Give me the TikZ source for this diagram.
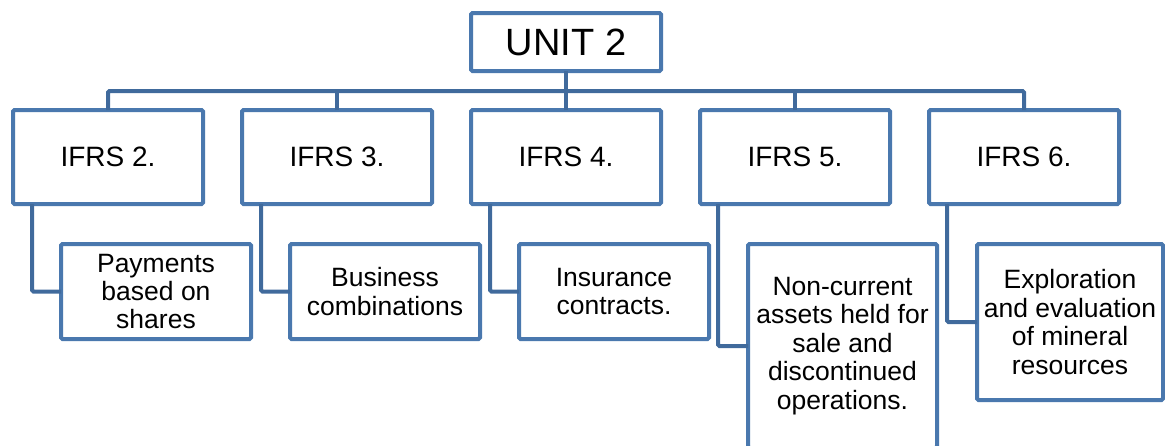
\documentclass[tikz,border=0pt]{standalone}
\usepackage{fontspec}
\setmainfont{Liberation Sans}
\definecolor{boxblue}{RGB}{74,120,174}
\definecolor{lineblue}{RGB}{64,106,156}
\begin{document}
\begin{tikzpicture}[x=1pt,y=-1pt,
  box/.style={draw=boxblue, line width=4pt, rounded corners=1.5pt, rectangle,
    inner sep=0pt, outer sep=0pt, align=center, fill=white},
  topbox/.style={box, minimum width=190pt, minimum height=94pt,
    font=\fontsize{28}{30}\selectfont},
  child/.style={box, minimum width=190pt, minimum height=95pt,
    font=\fontsize{26.5}{28.4}\selectfont},
  conn/.style={draw=lineblue, line width=4pt, rounded corners=1.5pt}]
\useasboundingbox (0,0) rectangle (1165,445);
% root
\node[box, minimum width=190pt, minimum height=58pt,
  font=\fontsize{38}{40}\selectfont] (u) at (566,42) {UNIT 2};
% first level
\node[topbox] (i2) at (108,157) {IFRS 2.};
\node[topbox] (i3) at (337,157) {IFRS 3.};
\node[topbox] (i4) at (566,157) {IFRS 4.};
\node[topbox] (i5) at (795,157) {IFRS 5.};
\node[topbox] (i6) at (1024,157) {IFRS 6.};
% second level
\node[child] (c2) at (156,291.5) {Payments\\based on\\shares};
\node[child] (c3) at (385,291.5) {Business\\combinations};
\node[child] (c4i) at (614,291.5) {Insurance\\contracts.};
\node[child, minimum width=189pt, minimum height=204pt] (c5) at (842.5,346)
  {Non-current\\assets held for\\sale and\\discontinued\\operations.};
\node[child, minimum width=186pt, minimum height=156pt] (c6) at (1070,322)
  {Exploration\\and evaluation\\of mineral\\resources};
% bus
\coordinate (bus) at (566,91);
\draw[conn] (u.south) -- (u.south |- bus);
\draw[conn] (i2.north) -- (i2.north |- bus) -- (i6.north |- bus) -- (i6.north);
\draw[conn] (i3.north) -- (i3.north |- bus);
\draw[conn] (i4.north) -- (i4.north |- bus);
\draw[conn] (i5.north) -- (i5.north |- bus);
% children connectors
\draw[conn] ([xshift=19pt]i2.south west) |- (c2.west);
\draw[conn] ([xshift=19pt]i3.south west) |- (c3.west);
\draw[conn] ([xshift=19pt]i4.south west) |- (c4i.west);
\draw[conn] ([xshift=18pt]i5.south west) |- (c5.west);
\draw[conn] ([xshift=18pt]i6.south west) |- (c6.west);
\end{tikzpicture}
\end{document}
